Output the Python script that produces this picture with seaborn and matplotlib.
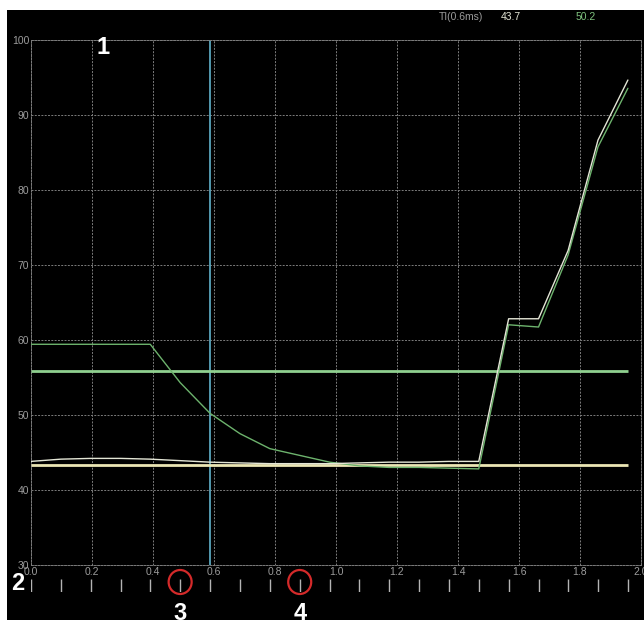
import numpy as np
import pandas as pd
import matplotlib
matplotlib.use('Agg')
import matplotlib.pyplot as plt
import seaborn as sns
from matplotlib.patches import Ellipse, Rectangle

# sample times (ms), one sample per tick of the strip under the plot
t = [0.0, 0.098, 0.196, 0.294, 0.391, 0.489, 0.587, 0.685, 0.783, 0.881, 0.979,
     1.077, 1.174, 1.272, 1.370, 1.468, 1.566, 1.664, 1.761, 1.859, 1.957]

green_curve = [59.4, 59.4, 59.4, 59.4, 59.4, 54.3, 50.2, 47.5, 45.5, 44.6, 43.7,
               43.2, 43.0, 43.0, 42.9, 42.8, 62.0, 61.7, 71.3, 85.7, 93.5]
white_curve = [43.8, 44.1, 44.2, 44.2, 44.1, 43.9, 43.7, 43.6, 43.5, 43.5, 43.5,
               43.6, 43.7, 43.7, 43.8, 43.8, 62.8, 62.8, 71.9, 86.6, 94.6]

green_level = 55.8
yellow_level = 43.3
ti_index = 6
marked = [5, 9]

xticks = [0.0, 0.2, 0.4, 0.6, 0.8, 1.0, 1.2, 1.4, 1.6, 1.8, 2.0]
yticks = [30, 40, 50, 60, 70, 80, 90, 100]

sns.set_style('dark', {'axes.facecolor': 'black', 'figure.facecolor': 'white'})
plt.rcParams['font.family'] = ['Liberation Sans', 'DejaVu Sans']

W, H = 644, 620
fig = plt.figure(figsize=(W / 100, H / 100), dpi=100)

# black panel with thin white border on top / left
fig.patches.append(Rectangle((7 / W, 0), 1, (H - 10) / H, transform=fig.transFigure,
                             facecolor='black', edgecolor='none', zorder=-5))

ax = fig.add_axes([31 / W, 55 / H, 610 / W, 525.5 / H])
ax.set_facecolor('black')

df = pd.DataFrame({'t': t + t,
                   'value': green_curve + white_curve,
                   'curve': ['green'] * len(t) + ['white'] * len(t)})

ax.hlines(green_level, t[0], t[-1], color='#8fd08f', lw=2, zorder=3)
ax.hlines(yellow_level, t[0], t[-1], color='#ebe6b4', lw=2, zorder=3)
ax.axvline(t[ti_index], color='#5aa6bd', lw=1.3, zorder=2)

sns.lineplot(data=df, x='t', y='value', hue='curve',
             palette={'green': '#6db36d', 'white': '#e4e6d6'},
             linewidth=1, legend=False, ax=ax, zorder=4)

ax.set_xlim(0, 2.0)
ax.set_ylim(30, 100)
ax.set_xticks(xticks)
ax.set_xticklabels(['%.1f' % v for v in xticks])
ax.set_yticks(yticks)
ax.set_xlabel('')
ax.set_ylabel('')
dash = (0, (2.0, 1.4))
ax.grid(True, color='#7c7c7c', linestyle=dash, lw=0.7)
for s in ax.spines.values():
    s.set_visible(True)
    s.set_color('#7c7c7c')
    s.set_linestyle(dash)
    s.set_linewidth(0.7)
ax.tick_params(colors='#9c9c9c', labelsize=7.5, length=0, pad=1.2)

# tick strip below the plot
strip = fig.add_axes([31 / W, 28 / H, 610 / W, 13 / H])
strip.set_xlim(0, 2.0)
strip.set_ylim(0, 1)
strip.axis('off')
strip.vlines(t, 0, 1, color='#b4b4b4', lw=1)

for i in marked:
    xf = fig.transFigure.inverted().transform(ax.transData.transform((t[i], 30)))[0]
    fig.patches.append(Ellipse((xf, (H - 582) / H), 23 / W, 24 / H, transform=fig.transFigure,
                               fill=False, edgecolor='#d42a2a', lw=1.6, zorder=5))

# readout at top
fig.text(461 / W, (H - 17) / H, 'TI(0.6ms)', color='#9c9c9c', fontsize=7.5, ha='center', va='center')
fig.text(511 / W, (H - 17) / H, '%.1f' % white_curve[ti_index], color='#e4e6d6', fontsize=7.5,
         ha='center', va='center')
fig.text(586 / W, (H - 17) / H, '%.1f' % green_curve[ti_index], color='#7fc27f', fontsize=7.5,
         ha='center', va='center')

# callout numbers
for label, x, y in [('1', 103, 47), ('2', 18, 584), ('3', 180, 613), ('4', 300, 613)]:
    fig.text(x / W, (H - y) / H, label, color='white', fontsize=17, fontweight='bold',
             ha='center', va='center')

fig.savefig('out.png', dpi=100)
